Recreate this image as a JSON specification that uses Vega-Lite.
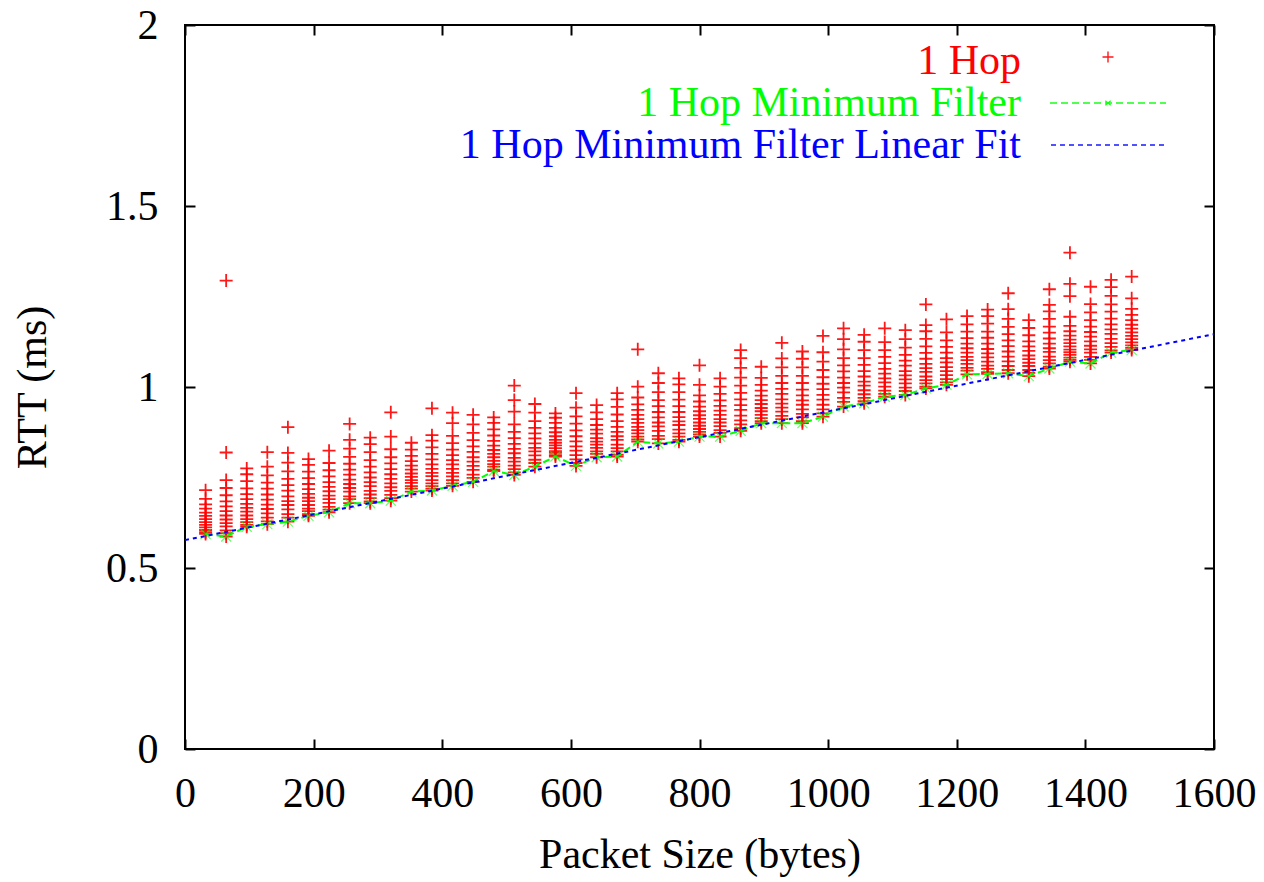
{
  "$schema": "https://vega.github.io/schema/vega-lite/v6.json",
  "width": 1029,
  "height": 724,
  "autosize": "none",
  "padding": {"left": 185, "top": 25, "right": 50, "bottom": 133},
  "background": "#ffffff",
  "config": {
    "font": "Liberation Serif",
    "view": {"stroke": "#000000", "strokeWidth": 2},
    "axis": {
      "domain": false, "grid": false,
      "tickColor": "#000000", "tickWidth": 2, "tickSize": -10,
      "labelFont": "Liberation Serif", "labelFontSize": 42, "labelColor": "#000000",
      "labelFlush": false, "labelOverlap": false,
      "titleFont": "Liberation Serif", "titleFontSize": 42, "titleFontWeight": "normal", "titleColor": "#000000"
    }
  },
  "datasets": {
    "hop": [
      {"size":32,"rtt":0.594},{"size":32,"rtt":0.599},{"size":32,"rtt":0.605},{"size":32,"rtt":0.612},{"size":32,"rtt":0.619},{"size":32,"rtt":0.627},{"size":32,"rtt":0.635},{"size":32,"rtt":0.644},{"size":32,"rtt":0.653},{"size":32,"rtt":0.664},{"size":32,"rtt":0.676},{"size":32,"rtt":0.691},{"size":32,"rtt":0.715},
      {"size":64,"rtt":0.587},{"size":64,"rtt":0.596},{"size":64,"rtt":0.604},{"size":64,"rtt":0.615},{"size":64,"rtt":0.624},{"size":64,"rtt":0.634},{"size":64,"rtt":0.645},{"size":64,"rtt":0.657},{"size":64,"rtt":0.670},{"size":64,"rtt":0.684},{"size":64,"rtt":0.701},{"size":64,"rtt":0.721},{"size":64,"rtt":0.743},{"size":64,"rtt":0.819},{"size":64,"rtt":1.294},
      {"size":96,"rtt":0.614},{"size":96,"rtt":0.619},{"size":96,"rtt":0.627},{"size":96,"rtt":0.635},{"size":96,"rtt":0.645},{"size":96,"rtt":0.656},{"size":96,"rtt":0.666},{"size":96,"rtt":0.677},{"size":96,"rtt":0.690},{"size":96,"rtt":0.704},{"size":96,"rtt":0.720},{"size":96,"rtt":0.740},{"size":96,"rtt":0.759},{"size":96,"rtt":0.775},
      {"size":128,"rtt":0.621},{"size":128,"rtt":0.629},{"size":128,"rtt":0.639},{"size":128,"rtt":0.651},{"size":128,"rtt":0.663},{"size":128,"rtt":0.675},{"size":128,"rtt":0.689},{"size":128,"rtt":0.703},{"size":128,"rtt":0.719},{"size":128,"rtt":0.736},{"size":128,"rtt":0.756},{"size":128,"rtt":0.780},{"size":128,"rtt":0.820},
      {"size":160,"rtt":0.628},{"size":160,"rtt":0.639},{"size":160,"rtt":0.649},{"size":160,"rtt":0.662},{"size":160,"rtt":0.674},{"size":160,"rtt":0.685},{"size":160,"rtt":0.698},{"size":160,"rtt":0.714},{"size":160,"rtt":0.729},{"size":160,"rtt":0.746},{"size":160,"rtt":0.767},{"size":160,"rtt":0.791},{"size":160,"rtt":0.818},{"size":160,"rtt":0.889},
      {"size":192,"rtt":0.644},{"size":192,"rtt":0.649},{"size":192,"rtt":0.657},{"size":192,"rtt":0.664},{"size":192,"rtt":0.674},{"size":192,"rtt":0.685},{"size":192,"rtt":0.694},{"size":192,"rtt":0.705},{"size":192,"rtt":0.718},{"size":192,"rtt":0.732},{"size":192,"rtt":0.748},{"size":192,"rtt":0.766},{"size":192,"rtt":0.785},{"size":192,"rtt":0.801},
      {"size":224,"rtt":0.654},{"size":224,"rtt":0.661},{"size":224,"rtt":0.669},{"size":224,"rtt":0.680},{"size":224,"rtt":0.690},{"size":224,"rtt":0.700},{"size":224,"rtt":0.712},{"size":224,"rtt":0.724},{"size":224,"rtt":0.737},{"size":224,"rtt":0.753},{"size":224,"rtt":0.770},{"size":224,"rtt":0.790},{"size":224,"rtt":0.824},
      {"size":256,"rtt":0.679},{"size":256,"rtt":0.690},{"size":256,"rtt":0.698},{"size":256,"rtt":0.711},{"size":256,"rtt":0.721},{"size":256,"rtt":0.732},{"size":256,"rtt":0.744},{"size":256,"rtt":0.758},{"size":256,"rtt":0.772},{"size":256,"rtt":0.788},{"size":256,"rtt":0.807},{"size":256,"rtt":0.830},{"size":256,"rtt":0.854},{"size":256,"rtt":0.898},
      {"size":288,"rtt":0.679},{"size":288,"rtt":0.684},{"size":288,"rtt":0.693},{"size":288,"rtt":0.703},{"size":288,"rtt":0.713},{"size":288,"rtt":0.726},{"size":288,"rtt":0.737},{"size":288,"rtt":0.750},{"size":288,"rtt":0.764},{"size":288,"rtt":0.780},{"size":288,"rtt":0.798},{"size":288,"rtt":0.820},{"size":288,"rtt":0.842},{"size":288,"rtt":0.860},
      {"size":320,"rtt":0.686},{"size":320,"rtt":0.693},{"size":320,"rtt":0.702},{"size":320,"rtt":0.713},{"size":320,"rtt":0.723},{"size":320,"rtt":0.734},{"size":320,"rtt":0.746},{"size":320,"rtt":0.759},{"size":320,"rtt":0.773},{"size":320,"rtt":0.789},{"size":320,"rtt":0.806},{"size":320,"rtt":0.828},{"size":320,"rtt":0.863},{"size":320,"rtt":0.930},
      {"size":352,"rtt":0.711},{"size":352,"rtt":0.719},{"size":352,"rtt":0.726},{"size":352,"rtt":0.735},{"size":352,"rtt":0.743},{"size":352,"rtt":0.752},{"size":352,"rtt":0.761},{"size":352,"rtt":0.772},{"size":352,"rtt":0.783},{"size":352,"rtt":0.795},{"size":352,"rtt":0.810},{"size":352,"rtt":0.827},{"size":352,"rtt":0.846},
      {"size":384,"rtt":0.714},{"size":384,"rtt":0.719},{"size":384,"rtt":0.726},{"size":384,"rtt":0.734},{"size":384,"rtt":0.743},{"size":384,"rtt":0.754},{"size":384,"rtt":0.763},{"size":384,"rtt":0.774},{"size":384,"rtt":0.786},{"size":384,"rtt":0.800},{"size":384,"rtt":0.815},{"size":384,"rtt":0.833},{"size":384,"rtt":0.852},{"size":384,"rtt":0.867},{"size":384,"rtt":0.941},
      {"size":416,"rtt":0.727},{"size":416,"rtt":0.734},{"size":416,"rtt":0.743},{"size":416,"rtt":0.753},{"size":416,"rtt":0.763},{"size":416,"rtt":0.774},{"size":416,"rtt":0.786},{"size":416,"rtt":0.798},{"size":416,"rtt":0.812},{"size":416,"rtt":0.827},{"size":416,"rtt":0.845},{"size":416,"rtt":0.865},{"size":416,"rtt":0.900},{"size":416,"rtt":0.929},
      {"size":448,"rtt":0.738},{"size":448,"rtt":0.749},{"size":448,"rtt":0.758},{"size":448,"rtt":0.771},{"size":448,"rtt":0.782},{"size":448,"rtt":0.794},{"size":448,"rtt":0.806},{"size":448,"rtt":0.821},{"size":448,"rtt":0.836},{"size":448,"rtt":0.853},{"size":448,"rtt":0.873},{"size":448,"rtt":0.897},{"size":448,"rtt":0.923},
      {"size":480,"rtt":0.768},{"size":480,"rtt":0.772},{"size":480,"rtt":0.780},{"size":480,"rtt":0.787},{"size":480,"rtt":0.796},{"size":480,"rtt":0.806},{"size":480,"rtt":0.815},{"size":480,"rtt":0.826},{"size":480,"rtt":0.838},{"size":480,"rtt":0.851},{"size":480,"rtt":0.866},{"size":480,"rtt":0.883},{"size":480,"rtt":0.901},{"size":480,"rtt":0.916},
      {"size":512,"rtt":0.757},{"size":512,"rtt":0.764},{"size":512,"rtt":0.773},{"size":512,"rtt":0.783},{"size":512,"rtt":0.794},{"size":512,"rtt":0.804},{"size":512,"rtt":0.817},{"size":512,"rtt":0.829},{"size":512,"rtt":0.843},{"size":512,"rtt":0.859},{"size":512,"rtt":0.876},{"size":512,"rtt":0.897},{"size":512,"rtt":0.932},{"size":512,"rtt":0.964},{"size":512,"rtt":1.004},
      {"size":544,"rtt":0.780},{"size":544,"rtt":0.790},{"size":544,"rtt":0.799},{"size":544,"rtt":0.811},{"size":544,"rtt":0.822},{"size":544,"rtt":0.832},{"size":544,"rtt":0.844},{"size":544,"rtt":0.858},{"size":544,"rtt":0.872},{"size":544,"rtt":0.887},{"size":544,"rtt":0.906},{"size":544,"rtt":0.929},{"size":544,"rtt":0.953},
      {"size":576,"rtt":0.808},{"size":576,"rtt":0.812},{"size":576,"rtt":0.818},{"size":576,"rtt":0.823},{"size":576,"rtt":0.831},{"size":576,"rtt":0.839},{"size":576,"rtt":0.846},{"size":576,"rtt":0.854},{"size":576,"rtt":0.864},{"size":576,"rtt":0.875},{"size":576,"rtt":0.887},{"size":576,"rtt":0.901},{"size":576,"rtt":0.915},{"size":576,"rtt":0.927},
      {"size":608,"rtt":0.782},{"size":608,"rtt":0.790},{"size":608,"rtt":0.800},{"size":608,"rtt":0.812},{"size":608,"rtt":0.824},{"size":608,"rtt":0.836},{"size":608,"rtt":0.850},{"size":608,"rtt":0.864},{"size":608,"rtt":0.880},{"size":608,"rtt":0.899},{"size":608,"rtt":0.919},{"size":608,"rtt":0.943},{"size":608,"rtt":0.983},
      {"size":640,"rtt":0.806},{"size":640,"rtt":0.815},{"size":640,"rtt":0.822},{"size":640,"rtt":0.832},{"size":640,"rtt":0.841},{"size":640,"rtt":0.849},{"size":640,"rtt":0.859},{"size":640,"rtt":0.871},{"size":640,"rtt":0.882},{"size":640,"rtt":0.895},{"size":640,"rtt":0.911},{"size":640,"rtt":0.930},{"size":640,"rtt":0.950},
      {"size":672,"rtt":0.808},{"size":672,"rtt":0.813},{"size":672,"rtt":0.822},{"size":672,"rtt":0.831},{"size":672,"rtt":0.841},{"size":672,"rtt":0.854},{"size":672,"rtt":0.864},{"size":672,"rtt":0.876},{"size":672,"rtt":0.890},{"size":672,"rtt":0.906},{"size":672,"rtt":0.924},{"size":672,"rtt":0.945},{"size":672,"rtt":0.966},{"size":672,"rtt":0.983},
      {"size":704,"rtt":0.849},{"size":704,"rtt":0.855},{"size":704,"rtt":0.863},{"size":704,"rtt":0.872},{"size":704,"rtt":0.881},{"size":704,"rtt":0.890},{"size":704,"rtt":0.901},{"size":704,"rtt":0.911},{"size":704,"rtt":0.923},{"size":704,"rtt":0.937},{"size":704,"rtt":0.952},{"size":704,"rtt":0.971},{"size":704,"rtt":1.001},{"size":704,"rtt":1.104},
      {"size":736,"rtt":0.844},{"size":736,"rtt":0.856},{"size":736,"rtt":0.865},{"size":736,"rtt":0.879},{"size":736,"rtt":0.891},{"size":736,"rtt":0.902},{"size":736,"rtt":0.916},{"size":736,"rtt":0.931},{"size":736,"rtt":0.947},{"size":736,"rtt":0.964},{"size":736,"rtt":0.986},{"size":736,"rtt":1.011},{"size":736,"rtt":1.038},
      {"size":768,"rtt":0.849},{"size":768,"rtt":0.854},{"size":768,"rtt":0.863},{"size":768,"rtt":0.872},{"size":768,"rtt":0.882},{"size":768,"rtt":0.895},{"size":768,"rtt":0.905},{"size":768,"rtt":0.917},{"size":768,"rtt":0.931},{"size":768,"rtt":0.947},{"size":768,"rtt":0.965},{"size":768,"rtt":0.986},{"size":768,"rtt":1.007},{"size":768,"rtt":1.024},
      {"size":800,"rtt":0.863},{"size":800,"rtt":0.869},{"size":800,"rtt":0.876},{"size":800,"rtt":0.884},{"size":800,"rtt":0.893},{"size":800,"rtt":0.902},{"size":800,"rtt":0.912},{"size":800,"rtt":0.922},{"size":800,"rtt":0.933},{"size":800,"rtt":0.946},{"size":800,"rtt":0.960},{"size":800,"rtt":0.977},{"size":800,"rtt":1.006},{"size":800,"rtt":1.060},
      {"size":832,"rtt":0.863},{"size":832,"rtt":0.873},{"size":832,"rtt":0.881},{"size":832,"rtt":0.892},{"size":832,"rtt":0.902},{"size":832,"rtt":0.911},{"size":832,"rtt":0.923},{"size":832,"rtt":0.935},{"size":832,"rtt":0.948},{"size":832,"rtt":0.963},{"size":832,"rtt":0.981},{"size":832,"rtt":1.001},{"size":832,"rtt":1.024},
      {"size":864,"rtt":0.879},{"size":864,"rtt":0.886},{"size":864,"rtt":0.897},{"size":864,"rtt":0.908},{"size":864,"rtt":0.921},{"size":864,"rtt":0.937},{"size":864,"rtt":0.950},{"size":864,"rtt":0.966},{"size":864,"rtt":0.984},{"size":864,"rtt":1.004},{"size":864,"rtt":1.026},{"size":864,"rtt":1.053},{"size":864,"rtt":1.080},{"size":864,"rtt":1.102},
      {"size":896,"rtt":0.900},{"size":896,"rtt":0.906},{"size":896,"rtt":0.914},{"size":896,"rtt":0.923},{"size":896,"rtt":0.933},{"size":896,"rtt":0.942},{"size":896,"rtt":0.953},{"size":896,"rtt":0.964},{"size":896,"rtt":0.976},{"size":896,"rtt":0.990},{"size":896,"rtt":1.006},{"size":896,"rtt":1.025},{"size":896,"rtt":1.056},
      {"size":928,"rtt":0.900},{"size":928,"rtt":0.911},{"size":928,"rtt":0.920},{"size":928,"rtt":0.932},{"size":928,"rtt":0.943},{"size":928,"rtt":0.954},{"size":928,"rtt":0.966},{"size":928,"rtt":0.981},{"size":928,"rtt":0.995},{"size":928,"rtt":1.011},{"size":928,"rtt":1.031},{"size":928,"rtt":1.054},{"size":928,"rtt":1.079},{"size":928,"rtt":1.122},
      {"size":960,"rtt":0.900},{"size":960,"rtt":0.906},{"size":960,"rtt":0.916},{"size":960,"rtt":0.926},{"size":960,"rtt":0.938},{"size":960,"rtt":0.951},{"size":960,"rtt":0.963},{"size":960,"rtt":0.977},{"size":960,"rtt":0.993},{"size":960,"rtt":1.011},{"size":960,"rtt":1.031},{"size":960,"rtt":1.054},{"size":960,"rtt":1.078},{"size":960,"rtt":1.098},
      {"size":992,"rtt":0.918},{"size":992,"rtt":0.927},{"size":992,"rtt":0.938},{"size":992,"rtt":0.951},{"size":992,"rtt":0.965},{"size":992,"rtt":0.978},{"size":992,"rtt":0.994},{"size":992,"rtt":1.009},{"size":992,"rtt":1.027},{"size":992,"rtt":1.047},{"size":992,"rtt":1.070},{"size":992,"rtt":1.096},{"size":992,"rtt":1.141},
      {"size":1024,"rtt":0.946},{"size":1024,"rtt":0.959},{"size":1024,"rtt":0.970},{"size":1024,"rtt":0.985},{"size":1024,"rtt":0.998},{"size":1024,"rtt":1.011},{"size":1024,"rtt":1.026},{"size":1024,"rtt":1.043},{"size":1024,"rtt":1.060},{"size":1024,"rtt":1.080},{"size":1024,"rtt":1.104},{"size":1024,"rtt":1.132},{"size":1024,"rtt":1.162},
      {"size":1056,"rtt":0.955},{"size":1056,"rtt":0.961},{"size":1056,"rtt":0.970},{"size":1056,"rtt":0.980},{"size":1056,"rtt":0.991},{"size":1056,"rtt":1.004},{"size":1056,"rtt":1.015},{"size":1056,"rtt":1.029},{"size":1056,"rtt":1.044},{"size":1056,"rtt":1.061},{"size":1056,"rtt":1.080},{"size":1056,"rtt":1.102},{"size":1056,"rtt":1.125},{"size":1056,"rtt":1.144},
      {"size":1088,"rtt":0.973},{"size":1088,"rtt":0.981},{"size":1088,"rtt":0.990},{"size":1088,"rtt":1.001},{"size":1088,"rtt":1.013},{"size":1088,"rtt":1.024},{"size":1088,"rtt":1.037},{"size":1088,"rtt":1.050},{"size":1088,"rtt":1.066},{"size":1088,"rtt":1.083},{"size":1088,"rtt":1.102},{"size":1088,"rtt":1.124},{"size":1088,"rtt":1.162},
      {"size":1120,"rtt":0.978},{"size":1120,"rtt":0.989},{"size":1120,"rtt":0.998},{"size":1120,"rtt":1.010},{"size":1120,"rtt":1.021},{"size":1120,"rtt":1.032},{"size":1120,"rtt":1.044},{"size":1120,"rtt":1.059},{"size":1120,"rtt":1.073},{"size":1120,"rtt":1.089},{"size":1120,"rtt":1.109},{"size":1120,"rtt":1.132},{"size":1120,"rtt":1.157},
      {"size":1152,"rtt":0.996},{"size":1152,"rtt":1.001},{"size":1152,"rtt":1.010},{"size":1152,"rtt":1.019},{"size":1152,"rtt":1.029},{"size":1152,"rtt":1.042},{"size":1152,"rtt":1.052},{"size":1152,"rtt":1.064},{"size":1152,"rtt":1.078},{"size":1152,"rtt":1.094},{"size":1152,"rtt":1.112},{"size":1152,"rtt":1.133},{"size":1152,"rtt":1.154},{"size":1152,"rtt":1.171},{"size":1152,"rtt":1.228},
      {"size":1184,"rtt":1.006},{"size":1184,"rtt":1.013},{"size":1184,"rtt":1.022},{"size":1184,"rtt":1.033},{"size":1184,"rtt":1.044},{"size":1184,"rtt":1.055},{"size":1184,"rtt":1.068},{"size":1184,"rtt":1.080},{"size":1184,"rtt":1.095},{"size":1184,"rtt":1.111},{"size":1184,"rtt":1.129},{"size":1184,"rtt":1.151},{"size":1184,"rtt":1.187},
      {"size":1216,"rtt":1.035},{"size":1216,"rtt":1.045},{"size":1216,"rtt":1.053},{"size":1216,"rtt":1.064},{"size":1216,"rtt":1.074},{"size":1216,"rtt":1.083},{"size":1216,"rtt":1.095},{"size":1216,"rtt":1.107},{"size":1216,"rtt":1.120},{"size":1216,"rtt":1.135},{"size":1216,"rtt":1.153},{"size":1216,"rtt":1.173},{"size":1216,"rtt":1.196},
      {"size":1248,"rtt":1.036},{"size":1248,"rtt":1.041},{"size":1248,"rtt":1.050},{"size":1248,"rtt":1.059},{"size":1248,"rtt":1.070},{"size":1248,"rtt":1.082},{"size":1248,"rtt":1.093},{"size":1248,"rtt":1.105},{"size":1248,"rtt":1.120},{"size":1248,"rtt":1.136},{"size":1248,"rtt":1.153},{"size":1248,"rtt":1.175},{"size":1248,"rtt":1.196},{"size":1248,"rtt":1.214},
      {"size":1280,"rtt":1.038},{"size":1280,"rtt":1.047},{"size":1280,"rtt":1.058},{"size":1280,"rtt":1.071},{"size":1280,"rtt":1.084},{"size":1280,"rtt":1.098},{"size":1280,"rtt":1.113},{"size":1280,"rtt":1.129},{"size":1280,"rtt":1.146},{"size":1280,"rtt":1.166},{"size":1280,"rtt":1.188},{"size":1280,"rtt":1.215},{"size":1280,"rtt":1.259},
      {"size":1312,"rtt":1.030},{"size":1312,"rtt":1.039},{"size":1312,"rtt":1.047},{"size":1312,"rtt":1.058},{"size":1312,"rtt":1.067},{"size":1312,"rtt":1.077},{"size":1312,"rtt":1.087},{"size":1312,"rtt":1.100},{"size":1312,"rtt":1.112},{"size":1312,"rtt":1.126},{"size":1312,"rtt":1.143},{"size":1312,"rtt":1.163},{"size":1312,"rtt":1.185},
      {"size":1344,"rtt":1.051},{"size":1344,"rtt":1.056},{"size":1344,"rtt":1.065},{"size":1344,"rtt":1.074},{"size":1344,"rtt":1.084},{"size":1344,"rtt":1.097},{"size":1344,"rtt":1.107},{"size":1344,"rtt":1.120},{"size":1344,"rtt":1.134},{"size":1344,"rtt":1.150},{"size":1344,"rtt":1.167},{"size":1344,"rtt":1.188},{"size":1344,"rtt":1.209},{"size":1344,"rtt":1.227},{"size":1344,"rtt":1.270},
      {"size":1376,"rtt":1.070},{"size":1376,"rtt":1.075},{"size":1376,"rtt":1.081},{"size":1376,"rtt":1.089},{"size":1376,"rtt":1.096},{"size":1376,"rtt":1.103},{"size":1376,"rtt":1.112},{"size":1376,"rtt":1.121},{"size":1376,"rtt":1.131},{"size":1376,"rtt":1.142},{"size":1376,"rtt":1.154},{"size":1376,"rtt":1.169},{"size":1376,"rtt":1.194},{"size":1376,"rtt":1.251},{"size":1376,"rtt":1.285},{"size":1376,"rtt":1.371},
      {"size":1408,"rtt":1.065},{"size":1408,"rtt":1.075},{"size":1408,"rtt":1.083},{"size":1408,"rtt":1.095},{"size":1408,"rtt":1.104},{"size":1408,"rtt":1.114},{"size":1408,"rtt":1.126},{"size":1408,"rtt":1.139},{"size":1408,"rtt":1.152},{"size":1408,"rtt":1.167},{"size":1408,"rtt":1.185},{"size":1408,"rtt":1.206},{"size":1408,"rtt":1.229},{"size":1408,"rtt":1.277},
      {"size":1440,"rtt":1.095},{"size":1440,"rtt":1.101},{"size":1440,"rtt":1.111},{"size":1440,"rtt":1.121},{"size":1440,"rtt":1.133},{"size":1440,"rtt":1.147},{"size":1440,"rtt":1.159},{"size":1440,"rtt":1.173},{"size":1440,"rtt":1.189},{"size":1440,"rtt":1.208},{"size":1440,"rtt":1.228},{"size":1440,"rtt":1.252},{"size":1440,"rtt":1.276},{"size":1440,"rtt":1.296},
      {"size":1472,"rtt":1.102},{"size":1472,"rtt":1.108},{"size":1472,"rtt":1.115},{"size":1472,"rtt":1.123},{"size":1472,"rtt":1.132},{"size":1472,"rtt":1.141},{"size":1472,"rtt":1.151},{"size":1472,"rtt":1.161},{"size":1472,"rtt":1.172},{"size":1472,"rtt":1.185},{"size":1472,"rtt":1.199},{"size":1472,"rtt":1.216},{"size":1472,"rtt":1.245},{"size":1472,"rtt":1.305}
    ],
    "fit": [
      {"size": 0, "rtt": 0.577},
      {"size": 1600, "rtt": 1.146}
    ]
  },
  "layer": [
    {
      "data": {"name": "hop"},
      "mark": {"type": "point", "shape": "M-1,0H1M0,-1V1", "filled": false, "size": 169, "strokeWidth": 1.8, "opacity": 0.9},
      "encoding": {
        "x": {
          "field": "size", "type": "quantitative",
          "scale": {"domain": [0, 1600], "nice": false, "zero": false},
          "axis": {"orient": "bottom", "values": [0, 200, 400, 600, 800, 1000, 1200, 1400, 1600], "format": "d", "labelPadding": 34, "title": "Packet Size (bytes)", "titlePadding": 20}
        },
        "y": {
          "field": "rtt", "type": "quantitative",
          "scale": {"domain": [0, 2], "nice": false, "zero": false},
          "axis": {"orient": "left", "values": [0, 0.5, 1, 1.5, 2], "format": "~g", "labelPadding": 37, "title": "RTT (ms)", "titlePadding": 51}
        },
        "color": {
          "datum": "1 Hop",
          "type": "nominal",
          "scale": {
            "domain": ["1 Hop", "1 Hop Minimum Filter", "1 Hop Minimum Filter Linear Fit"],
            "range": ["#ff0000", "#00ff00", "#0000ff"]
          },
          "legend": {
            "orient": "none", "legendX": 902, "legendY": 15,
            "title": null, "padding": 0, "rowPadding": -2,
            "labelFont": "Liberation Serif", "labelFontSize": 42, "labelAlign": "right", "labelBaseline": "middle",
            "labelOffset": -108, "labelLimit": 0,
            "labelColor": {"expr": "datum.value == '1 Hop' ? '#ff0000' : datum.value == '1 Hop Minimum Filter' ? '#00ff00' : '#0000ff'"},
            "symbolType": {"expr": "datum.value == '1 Hop' ? 'M-0.55,-0.4H0.55M0,-0.95V0.15' : datum.value == '1 Hop Minimum Filter' ? 'M-5.8,0H5.8M-0.27,-0.22L0.27,0.22M-0.27,0.22L0.27,-0.22' : 'M-5.7,0H5.7'"},
            "symbolDash": {"expr": "datum.value == '1 Hop' ? [] : datum.value == '1 Hop Minimum Filter' ? [7, 4] : [5, 4]"},
            "symbolSize": 400, "symbolStrokeWidth": 1.4, "symbolFillColor": "transparent"
          }
        }
      }
    },
    {
      "data": {"name": "hop"},
      "transform": [{"aggregate": [{"op": "min", "field": "rtt", "as": "rtt"}], "groupby": ["size"]}],
      "mark": {"type": "line", "strokeWidth": 2, "strokeDash": [7, 4]},
      "encoding": {
        "x": {"field": "size", "type": "quantitative", "axis": null},
        "y": {"field": "rtt", "type": "quantitative", "axis": null},
        "color": {"datum": "1 Hop Minimum Filter", "type": "nominal"}
      }
    },
    {
      "data": {"name": "hop"},
      "transform": [{"aggregate": [{"op": "min", "field": "rtt", "as": "rtt"}], "groupby": ["size"]}],
      "mark": {"type": "point", "shape": "M-1,-1L1,1M-1,1L1,-1", "filled": false, "size": 100, "strokeWidth": 1.2, "opacity": 0.6},
      "encoding": {
        "x": {"field": "size", "type": "quantitative", "axis": null},
        "y": {"field": "rtt", "type": "quantitative", "axis": null},
        "color": {"datum": "1 Hop Minimum Filter", "type": "nominal"}
      }
    },
    {
      "data": {"name": "fit"},
      "mark": {"type": "line", "strokeWidth": 2, "strokeDash": [4, 4]},
      "encoding": {
        "x": {
          "field": "size", "type": "quantitative",
          "axis": {"orient": "top", "values": [0, 200, 400, 600, 800, 1000, 1200, 1400, 1600], "labels": false, "title": null}
        },
        "y": {
          "field": "rtt", "type": "quantitative",
          "axis": {"orient": "right", "values": [0, 0.5, 1, 1.5, 2], "labels": false, "title": null}
        },
        "color": {"datum": "1 Hop Minimum Filter Linear Fit", "type": "nominal"}
      }
    }
  ],
  "resolve": {"axis": {"x": "independent", "y": "independent"}}
}
